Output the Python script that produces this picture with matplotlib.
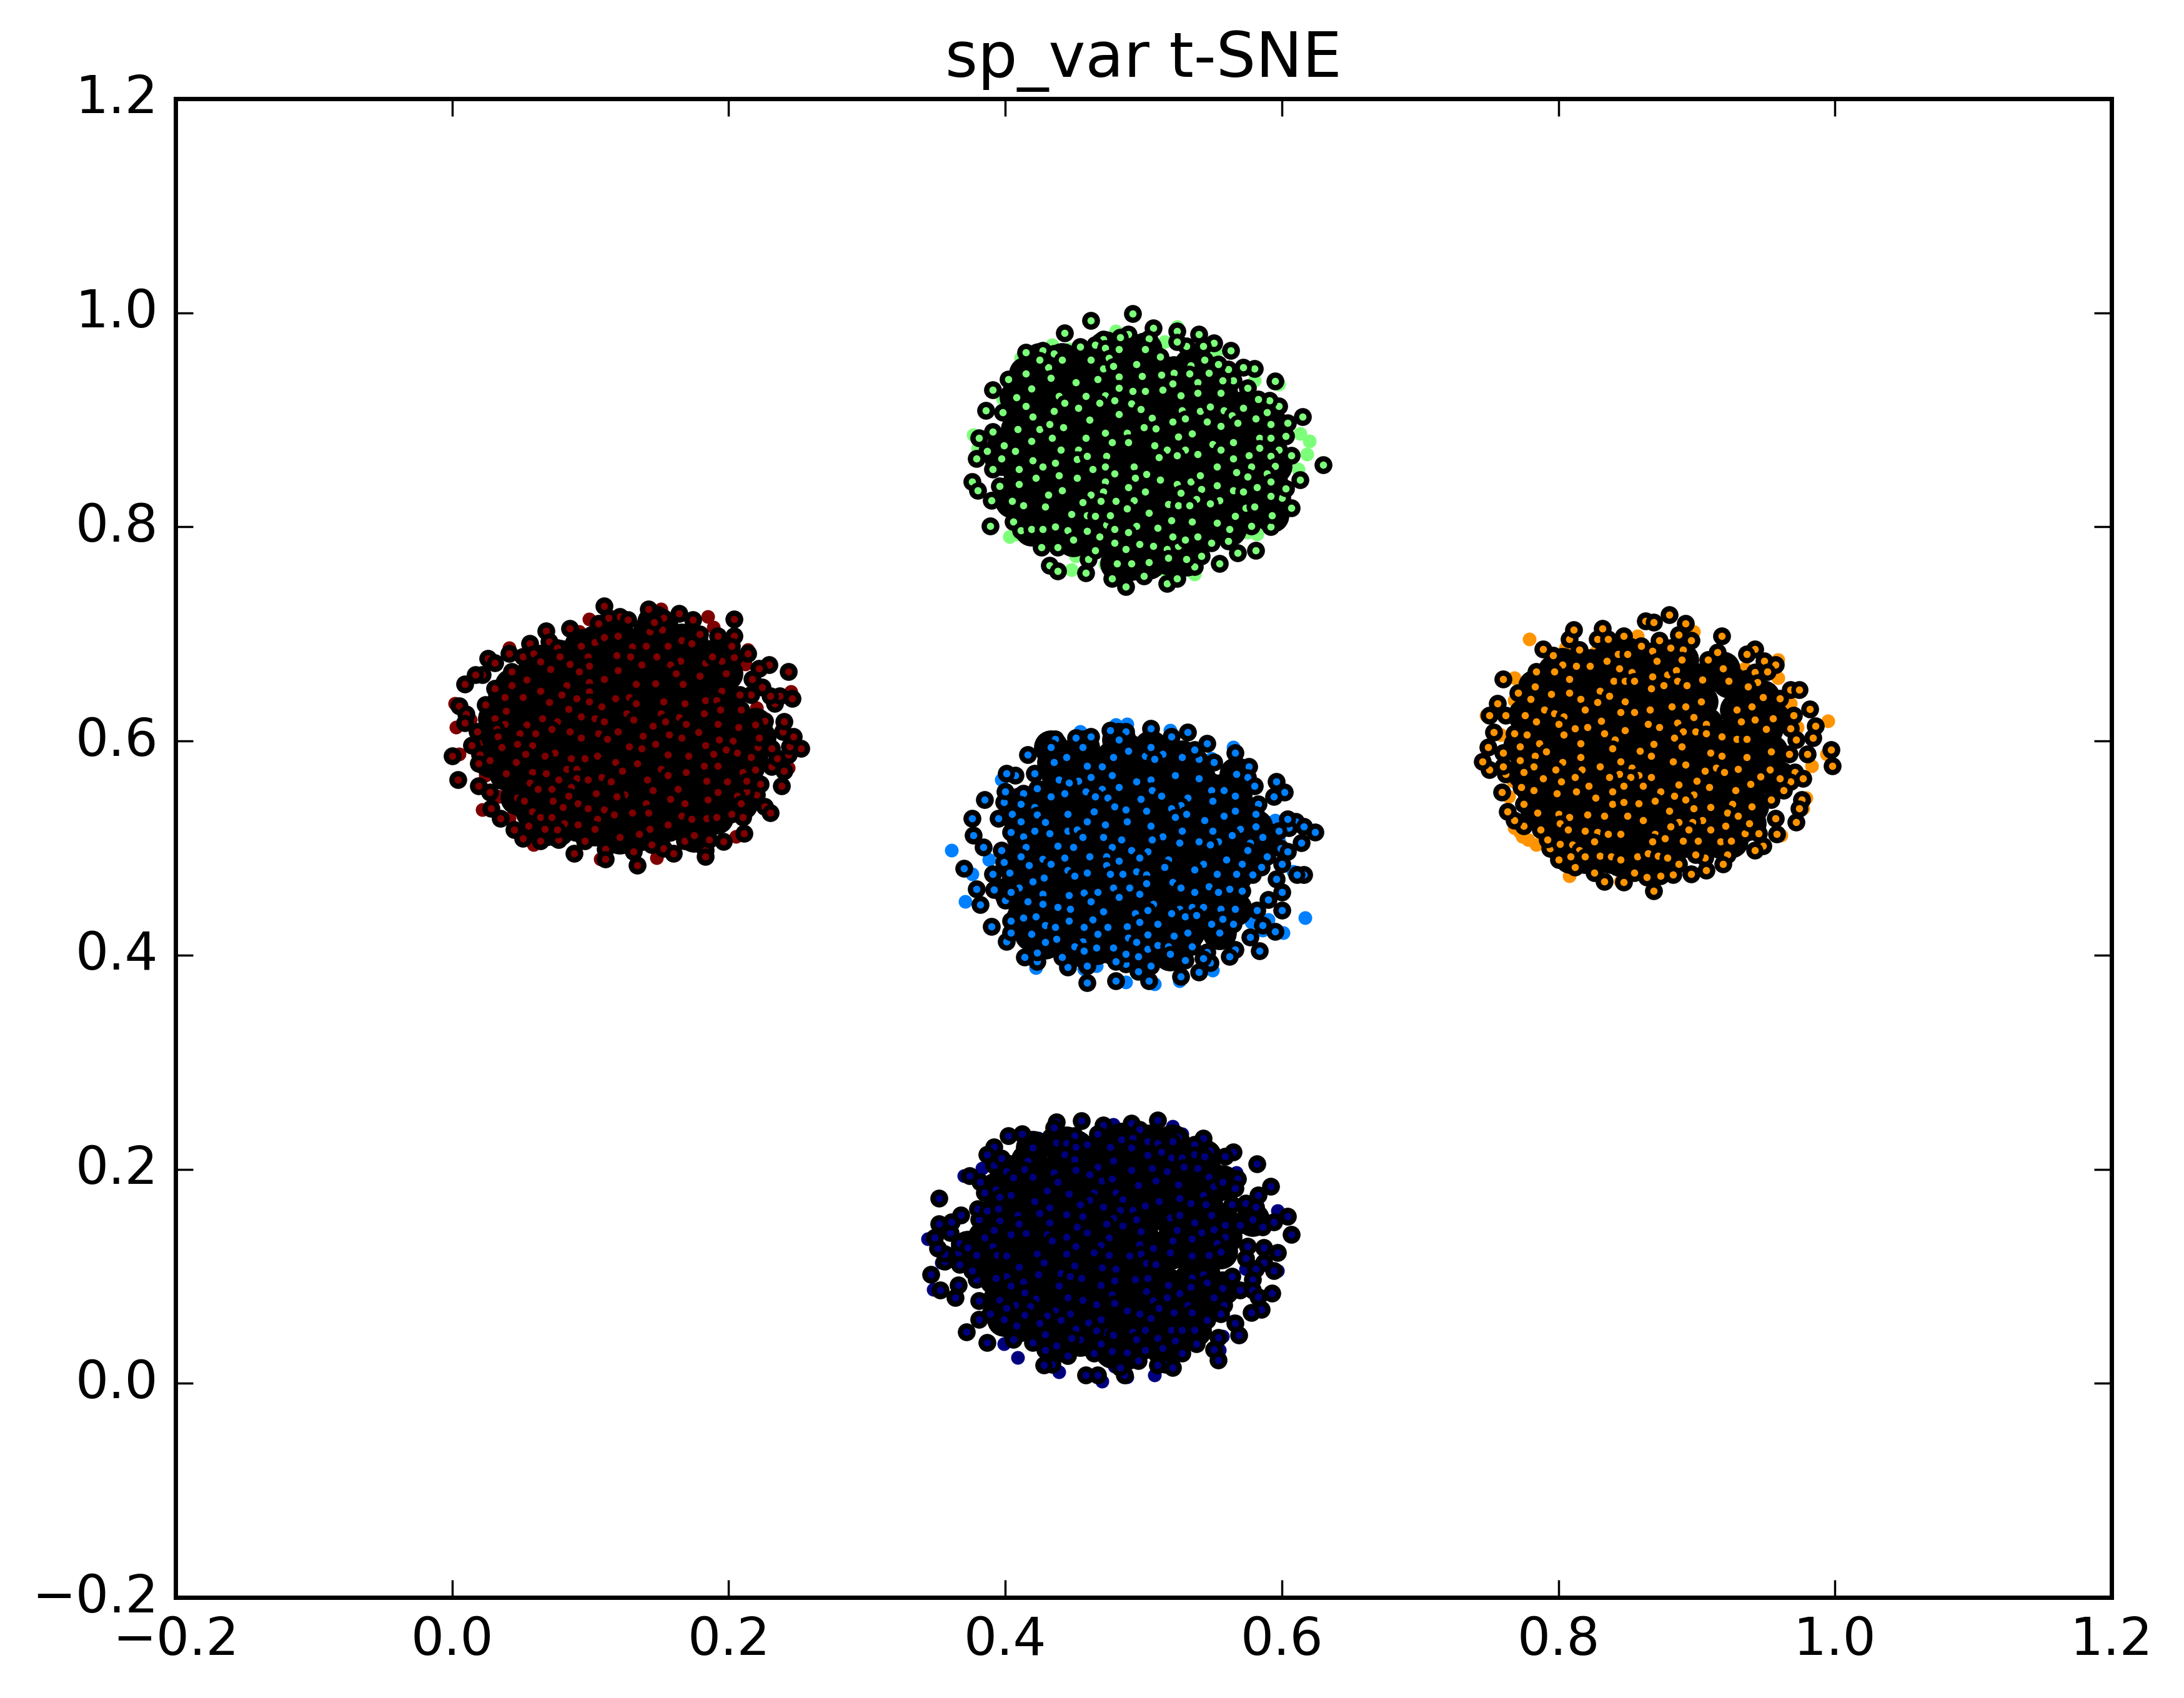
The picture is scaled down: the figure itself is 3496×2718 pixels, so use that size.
#!/usr/bin/env python
import matplotlib
matplotlib.use('Agg')
import matplotlib.pyplot as plt
import numpy as np

# all points are x,y pairs in thousandths, read off the picture cluster by cluster
# *_rim = ringed points on the outside, *_inner = ringed points inside, *_bare = uncovered colour dots

green_rim = [489,1001, 459,995, 440,983, 504,988, 521,985, 537,982, 548,974, 560,967, 451,970, 412,965, 424,967, 432,964,
  399,940, 388,930, 383,911, 395,909, 388,891, 378,885, 384,873, 376,866, 388,856, 373,844, 377,836, 387,827, 393,840,
  386,803, 403,807, 408,799, 423,783, 435,783, 429,766, 435,761, 455,759, 457,772, 462,780, 474,754, 484,746, 497,756,
  514,749, 521,754, 534,765, 552,768, 539,775, 565,778, 578,780, 589,802, 575,803, 558,789, 546,787, 604,820, 597,829,
  610,846, 600,838, 627,860, 604,869, 595,874, 600,887, 612,905, 601,899, 595,915, 588,920, 592,938, 577,950, 569,951,
  562,939, 580,921, 572,932, 558,949, 551,954, 541,958, 540,971, 528,971, 521,975, 509,961, 501,978, 486,982, 480,979,
  468,977, 462,972]
green_inner = [469,969, 479,968, 498,968, 459,958, 472,960, 438,958, 428,951, 422,958, 412,945, 416,931, 405,923, 412,915,
  417,905, 406,893, 422,893, 396,878, 404,873, 394,866, 407,856, 407,842, 402,826, 410,822, 426,821, 416,800, 424,800,
  433,802, 442,799, 446,790, 456,798, 465,793, 476,787, 484,781, 494,786, 504,784, 514,781, 522,784, 478,768, 488,768,
  501,769, 515,773, 528,772, 536,793, 518,793, 527,790, 507,801, 492,803, 486,797, 470,804, 476,800, 468,950, 475,952,
  492,954, 519,946, 531,953, 544,946, 530,945, 448,937, 464,940, 479,942, 496,943, 510,944, 518,936, 536,937, 554,939,
  430,941, 436,924, 455,924, 469,925, 479,932, 489,929, 498,929, 511,930, 524,925, 536,927, 553,927, 440,918, 450,913,
  465,918, 476,920, 488,917, 495,912, 525,911, 538,910, 545,914, 555,911, 569,913, 432,910, 458,902, 479,907, 503,904,
  518,900, 527,903, 561,906, 578,903, 586,909, 429,898, 439,895, 469,890, 485,890, 497,895, 506,894, 543,900, 553,896,
  565,899, 589,898, 431,885, 455,885, 474,881, 486,881, 522,886, 532,889, 547,879, 562,881, 581,885, 589,885, 416,882,
  437,874, 450,874, 505,878, 514,874, 527,874, 553,874, 573,869, 581,876, 417,864, 424,858, 433,862, 449,865, 456,868,
  470,868, 508,867, 521,869, 536,870, 562,866, 589,868, 436,850, 460,856, 469,858, 490,858, 476,852, 499,851, 550,858,
  575,858, 564,853, 592,859, 419,848, 449,848, 469,844, 491,848, 509,846, 521,842, 531,844, 538,850, 572,849, 586,852,
  589,844, 438,836, 486,839, 468,835, 498,835, 524,834, 539,837, 550,841, 562,836, 569,835, 579,839, 428,832, 459,832,
  477,826, 466,826, 490,827, 535,828, 552,827, 589,831, 453,825, 515,823, 522,822, 530,822, 545,824, 571,820, 577,821,
  445,814, 456,813, 485,819, 462,812, 501,815, 590,813, 473,813, 517,808, 532,807, 550,806, 563,812, 559,800]
green_bare = [610,889, 617,882, 615,870, 400,793, 405,795, 445,762, 448,775, 534,758, 579,795, 572,797, 547,797, 513,760,
  595,935, 577,939, 395,922, 420,941, 443,968, 431,972, 477,985, 521,989, 549,965, 512,975, 374,888, 408,960, 377,875,
  414,811, 609,856, 469,767, 590,812]

red_rim = [108,729, 119,719, 140,726, 162,722, 172,716, 202,717, 202,701, 190,701, 177,703, 151,718, 125,716, 111,718,
  104,713, 83,708, 66,706, 54,694, 39,685, 24,680, 29,676, 49,682, 57,685, 68,696, 74,690, 20,665, 15,665, 7,656, 29,652,
  41,668, 3,636, 22,637, 8,628, 7,620, 16,612, 12,599, -2,589, 18,590, 17,582, 2,567, 17,561, 25,555, 26,540, 33,531,
  43,520, 49,512, 53,524, 62,510, 75,511, 86,498, 94,510, 109,502, 109,493, 129,500, 132,487, 142,506, 151,503, 158,498,
  166,510, 181,501, 181,495, 184,511, 194,509, 209,517, 208,532, 200,535, 224,542, 228,536, 218,553, 211,556, 236,561,
  221,563, 238,575, 229,579, 217,576, 241,590, 233,587, 250,596, 242,598, 229,596, 219,597, 245,607, 237,612, 238,621,
  224,622, 231,638, 244,643, 235,645, 228,645, 241,668, 227,674, 220,671, 212,685, 215,661, 222,653, 214,646, 206,646,
  207,632, 202,681, 200,692, 193,678]
red_inner = [91,692, 101,695, 108,700, 118,701, 128,691, 138,692, 141,705, 150,707, 144,714, 154,692, 164,697, 171,694,
  76,682, 96,682, 117,683, 127,682, 146,682, 163,678, 181,676, 186,682, 62,677, 83,675, 97,673, 118,669, 135,674, 156,674,
  160,666, 177,664, 196,666, 69,670, 90,668, 108,661, 145,657, 165,656, 131,656, 52,660, 41,655, 62,650, 81,655, 97,658,
  97,649, 126,644, 116,643, 193,650, 181,641, 189,641, 36,644, 49,644, 77,646, 88,643, 97,640, 68,639, 151,640, 166,638,
  131,638, 37,631, 82,633, 106,635, 124,629, 149,629, 180,629, 192,632, 29,624, 63,624, 91,626, 101,624, 129,623, 162,625,
  190,619, 205,616, 217,618, 36,619, 52,618, 74,621, 108,621, 143,617, 152,621, 167,619, 30,614, 70,614, 83,612, 118,612,
  104,610, 176,611, 155,609, 47,610, 58,610, 31,607, 91,606, 110,605, 136,608, 164,606, 191,604, 201,603, 220,606, 45,600,
  56,599, 34,597, 126,598, 145,600, 181,599, 135,596, 51,591, 72,592, 65,589, 103,589, 94,587, 84,587, 154,590, 169,589,
  187,591, 196,595, 204,592, 214,588, 25,585, 44,583, 116,583, 132,582, 180,580, 190,580, 81,577, 88,577, 121,575, 149,577,
  167,574, 208,574, 37,573, 56,574, 66,573, 106,569, 154,571, 182,566, 197,565, 211,566, 54,564, 75,567, 88,568, 96,567,
  113,565, 139,567, 60,558, 70,558, 84,560, 102,554, 143,557, 161,558, 190,555, 82,552, 123,553, 117,551, 45,550, 156,549,
  204,552, 50,547, 71,547, 89,545, 138,545, 166,545, 183,548, 207,545, 78,541, 96,540, 108,539, 56,537, 128,536, 140,536,
  115,534, 62,532, 70,532, 103,530, 164,533, 171,530, 182,531, 189,532, 79,526, 89,525, 154,525, 141,521, 65,521, 74,520,
  101,521, 119,513, 133,516, 173,515]
red_bare = [97,717, 149,726, 183,719, 187,709, 0,638, 1,616, 11,623, 3,591, 20,601, 22,571, 32,551, 20,539, 39,531, 57,506,
  146,494, 105,493, 203,514, 241,578, 243,649, 218,634, 212,688, 210,675, 96,702, 90,705, 51,673, 39,690, 228,538]

orange_rim = [875,721, 858,715, 864,714, 887,713, 882,702, 913,701, 937,689, 931,684, 944,678, 952,674, 937,667, 946,668,
  939,658, 963,651, 969,651, 955,643, 977,633, 965,627, 981,617, 963,615, 967,604, 979,606, 992,595, 975,591, 993,580,
  962,591, 966,574, 972,568, 963,565, 958,557, 971,548, 949,548, 969,540, 952,531, 967,527, 953,516, 940,517, 943,505,
  937,501, 930,517, 917,497, 914,488, 902,482, 901,494, 891,479, 894,497, 882,488, 878,478, 869,477, 859,476, 864,463,
  842,471, 850,480, 828,472, 821,480, 807,485, 795,492, 789,503, 787,511, 782,520, 770,524, 763,529, 758,537, 770,544,
  754,555, 768,560, 757,572, 755,579, 745,576, 740,584, 767,585, 755,592, 744,597, 748,611, 763,610, 745,627, 757,627,
  751,638, 766,648, 755,661, 779,668, 775,642, 784,689, 791,683, 803,698, 806,707, 810,688, 823,698, 827,708, 831,698,
  842,701, 855,692, 868,697, 876,690, 891,697, 885,688, 863,687, 910,686, 903,679]
orange_inner = [798,674, 808,673, 818,673, 830,678, 838,684, 845,684, 866,678, 884,679, 792,668, 839,671, 848,667, 874,665,
  880,669, 914,671, 803,661, 835,659, 843,659, 850,659, 863,663, 881,659, 899,660, 918,659, 932,654, 778,654, 803,648,
  790,647, 825,650, 862,652, 871,655, 888,655, 832,645, 811,642, 823,639, 843,640, 898,640, 943,644, 785,632, 814,632,
  792,629, 840,630, 850,630, 877,635, 887,635, 935,635, 924,632, 771,627, 799,626, 826,622, 950,624, 893,625, 861,632,
  779,621, 795,619, 816,616, 860,619, 881,620, 902,619, 927,621, 937,623, 807,615, 843,613, 868,616, 885,612, 894,612,
  945,614, 772,609, 799,609, 828,610, 902,610, 913,607, 879,606, 924,605, 931,605, 781,601, 811,601, 836,604, 864,600,
  884,598, 767,598, 834,596, 854,594, 905,592, 913,589, 949,593, 786,593, 811,588, 862,589, 931,588, 778,589, 840,584,
  878,584, 798,583, 887,581, 825,579, 848,578, 909,578, 948,576, 777,579, 793,576, 812,576, 901,575, 925,577, 839,572,
  853,571, 915,574, 770,574, 832,569, 847,569, 862,569, 807,569, 784,568, 941,570, 797,565, 895,566, 955,568, 882,562,
  856,561, 842,561, 817,561, 904,560, 934,563, 777,557, 808,556, 794,554, 834,556, 869,556, 923,557, 893,553, 879,552,
  865,547, 887,548, 834,544, 842,546, 853,545, 822,550, 921,544, 935,542, 905,541, 893,540, 875,538, 780,536, 795,535,
  803,532, 816,534, 828,533, 845,533, 917,536, 925,533, 856,529, 796,526, 882,527, 899,529, 933,526, 916,524, 892,527,
  802,520, 814,519, 823,518, 876,523, 889,520, 905,520, 831,516, 840,516, 865,516, 821,509, 872,512, 885,510, 896,510,
  912,509, 920,510, 796,507, 805,506, 863,509, 810,501, 825,496, 833,495, 840,492, 852,495, 860,498, 867,496, 874,494,
  804,495, 814,495]
orange_bare = [774,698, 763,662, 743,627, 990,622, 989,591, 978,580, 974,550, 972,540, 956,515, 954,679, 954,662, 930,671,
  893,705, 852,701, 803,477, 779,506, 773,511, 769,514, 763,522, 767,518, 759,551, 762,566, 753,609, 763,641, 968,616,
  963,638, 822,686, 800,690, 857,487, 827,487, 840,472, 937,549, 940,533]

blue_rim = [413,590, 433,605, 448,606, 459,607, 473,613, 484,612, 502,615, 517,607, 529,611, 543,601, 563,592, 548,583,
  537,586, 534,595, 573,579, 572,569, 593,565, 577,561, 599,555, 591,551, 580,544, 578,535, 607,528, 613,523, 621,518,
  602,522, 601,530, 595,519, 611,508, 596,503, 601,500, 586,495, 597,488, 582,485, 613,478, 608,478, 593,474, 576,478,
  597,462, 587,455, 568,463, 597,445, 579,445, 562,432, 583,431, 592,425, 574,420, 581,407, 563,408, 559,402, 543,406,
  545,396, 540,400, 537,387, 532,411, 527,398, 524,383, 502,393, 501,379, 493,388, 484,395, 477,379, 477,397, 456,377,
  456,393, 442,392, 438,401, 420,397, 420,405, 411,401, 398,416, 401,424, 387,430, 401,435, 379,450, 397,454, 376,465,
  389,464, 388,479, 367,484, 400,480, 396,490, 381,504, 394,501, 374,515, 401,518, 373,531, 392,531, 402,535, 382,548,
  396,546, 397,556, 410,554, 404,571, 398,573, 418,573, 420,559]
blue_inner = [432,583, 441,588, 453,597, 430,597, 456,580, 467,579, 475,588, 479,604, 486,594, 498,589, 502,597, 511,591,
  505,586, 525,588, 436,567, 450,566, 459,569, 443,564, 474,571, 492,565, 502,567, 520,571, 537,568, 564,572, 555,557,
  546,557, 430,551, 440,554, 455,556, 467,558, 479,560, 503,557, 510,552, 529,550, 495,549, 471,550, 462,551, 563,552,
  547,547, 408,544, 418,541, 476,542, 484,539, 524,543, 499,538, 517,540, 563,538, 442,535, 461,537, 420,534, 528,535,
  520,532, 555,533, 541,529, 408,528, 426,527, 456,528, 485,528, 469,525, 502,524, 418,519, 442,519, 449,520, 525,519,
  547,519, 567,521, 578,523, 429,517, 410,514, 453,513, 468,513, 511,514, 561,515, 583,513, 481,511, 503,511, 537,509,
  551,509, 574,508, 435,505, 446,504, 474,504, 523,508, 412,504, 545,506, 488,501, 500,500, 572,501, 424,493, 408,495,
  440,494, 458,495, 470,495, 494,494, 515,492, 557,492, 479,491, 414,487, 430,488, 470,487, 512,485, 540,488, 568,488,
  534,483, 442,482, 456,480, 473,479, 482,479, 492,481, 550,479, 564,479, 425,475, 447,477, 499,478, 417,472, 518,471,
  499,470, 407,466, 475,466, 487,466, 524,466, 544,467, 559,465, 424,460, 443,459, 454,461, 464,462, 494,460, 534,462,
  551,462, 401,462, 479,457, 413,453, 424,451, 459,453, 504,451, 435,448, 444,446, 532,448, 540,448, 553,446, 468,444,
  491,442, 500,445, 523,446, 517,442, 563,446, 410,438, 419,439, 443,435, 460,436, 527,439, 535,440, 554,437, 426,431,
  494,434, 507,432, 546,432, 433,429, 454,429, 471,429, 485,430, 416,423, 464,423, 500,422, 519,421, 529,424, 552,424,
  434,418, 426,415, 453,416, 486,419, 492,415, 447,411, 475,410, 463,410, 500,409, 507,412, 515,411, 454,407, 484,404,
  493,402, 516,404]
blue_bare = [358,501, 368,453, 614,438, 598,424, 547,389, 505,376, 484,378, 523,379, 463,393, 454,390, 414,416, 394,567,
  419,391, 592,529, 595,510, 605,481, 583,426, 587,436, 575,434, 408,481, 405,485, 373,479, 477,618, 485,619, 451,612,
  516,613, 562,597, 508,603, 546,587, 490,576, 513,564, 446,421, 555,419, 586,527, 385,492]

navy_rim = [452,250, 434,249, 432,244, 468,246, 488,248, 507,251, 494,242, 522,235, 540,234, 409,238, 399,236, 389,226,
  384,219, 447,236, 456,228, 464,238, 534,228, 545,222, 562,221, 579,210, 556,217, 565,196, 589,189, 563,187, 580,181,
  561,172, 571,173, 578,170, 601,161, 591,156, 583,151, 604,144, 567,153, 584,132, 594,127, 572,133, 584,118, 571,122,
  591,110, 578,112, 561,105, 576,102, 567,92, 590,89, 576,92, 580,86, 582,74, 575,71, 555,78, 553,70, 563,61, 543,64,
  566,50, 551,48, 535,42, 548,37, 551,27, 525,33, 513,23, 518,20, 507,22, 493,26, 483,13, 480,20, 498,36, 464,13, 455,13,
  461,33, 442,31, 431,23, 425,22, 426,36, 417,43, 403,46, 384,43, 369,53, 378,65, 386,70, 378,82, 350,92, 361,85, 363,97,
  343,107, 376,102, 364,116, 373,110, 353,119, 353,126, 348,131, 363,127, 346,141, 364,136, 357,146, 349,154, 358,156,
  365,162, 378,158, 349,178, 377,168, 379,193, 371,199, 382,183, 389,209, 394,215, 384,166]
navy_inner = [417,225, 434,230, 441,229, 448,226, 473,226, 481,233, 489,234, 488,225, 500,231, 507,229, 518,231, 500,218,
  510,221, 517,216, 525,216, 534,219, 541,217, 413,213, 440,219, 447,214, 464,207, 475,213, 411,205, 432,202, 448,204,
  488,204, 503,206, 526,207, 536,206, 514,203, 398,203, 417,198, 403,197, 458,200, 544,198, 435,193, 467,194, 474,196,
  506,194, 522,191, 548,189, 554,193, 493,190, 390,186, 427,185, 443,182, 461,183, 477,183, 401,181, 393,179, 540,181,
  418,175, 458,176, 482,177, 508,175, 523,178, 531,173, 451,172, 468,170, 498,171, 542,172, 392,168, 429,169, 480,167,
  489,167, 422,164, 441,163, 546,162, 516,160, 523,162, 453,161, 406,162, 475,159, 492,158, 393,157, 429,155, 407,154,
  534,155, 556,153, 576,158, 449,151, 470,154, 482,152, 389,148, 521,148, 548,149, 456,146, 495,147, 427,144, 401,144,
  539,146, 382,141, 441,142, 472,141, 556,142, 518,138, 494,135, 532,140, 550,136, 448,133, 466,134, 504,131, 388,133,
  431,138, 412,145, 370,132, 516,127, 553,128, 420,126, 441,126, 461,127, 472,125, 495,126, 532,124, 544,125, 391,125,
  376,125, 398,124, 487,124, 425,118, 447,115, 499,117, 506,116, 407,114, 467,113, 477,112, 421,107, 437,108, 444,105,
  540,107, 398,105, 452,103, 500,103, 532,104, 390,103, 491,102, 410,100, 476,101, 543,99, 401,96, 436,96, 466,97, 515,97,
  531,95, 554,94, 499,91, 411,90, 523,89, 474,88, 547,88, 442,85, 453,83, 419,84, 393,83, 514,85, 548,85, 504,82, 463,79,
  404,78, 415,77, 529,78, 476,80, 508,75, 398,75, 485,73, 433,73, 519,71, 532,71, 444,70, 494,70, 411,69, 427,68, 502,66,
  396,65, 437,64, 466,65, 457,62, 405,59, 422,61, 498,55, 448,56, 517,55, 525,55, 469,53, 475,50, 489,53, 534,55, 426,51,
  463,54, 492,46, 507,47, 520,45, 451,46, 445,47, 434,40, 466,42, 511,38, 474,35, 485,34]
navy_bare = [518,245, 475,247, 525,238, 421,234, 411,234, 367,199, 380,206, 341,140, 351,118, 345,93, 396,42, 406,29, 436,16,
  467,7, 485,11, 505,13, 564,202, 594,166, 594,110, 562,63, 554,49, 552,36, 543,73, 476,21, 422,212, 451,218, 550,179,
  387,94, 515,30, 571,112]

clusters = [
  (navy_rim, navy_inner, navy_bare, '#00007f', (0.003, -0.005)),
  (blue_rim, blue_inner, blue_bare, '#0080ff', (0.003, -0.003)),
  (green_rim, green_inner, green_bare, '#7cff79', (0.003, -0.002)),
  (orange_rim, orange_inner, orange_bare, '#ff9400', (0.005, -0.003)),
  (red_rim, red_inner, red_bare, '#7f0000', (0.002, -0.003)),
]

xticks = [-0.2, 0.0, 0.2, 0.4, 0.6, 0.8, 1.0, 1.2]
yticks = [-0.2, 0.0, 0.2, 0.4, 0.6, 0.8, 1.0, 1.2]


def pts(vals, shift):
  # crop readings sit a few thousandths off, shift is that correction
  return np.array(vals).reshape(-1, 2) / 1000.0 + shift


plt.style.use('classic')
fig = plt.figure(figsize=(6.992, 5.436))
ax = fig.add_axes([0.0804, 0.0592, 0.8864, 0.8827])

for rim, inner, bare, col, shift in clusters:
  r = pts(rim, shift)
  n = pts(inner, shift)
  b = pts(bare, shift)
  rings = np.vstack([r, n])
  # colour dots that stick out from under the rings
  ax.scatter(b[:, 0], b[:, 1], s=10, c=col, linewidths=0)
  ax.scatter(rings[:, 0], rings[:, 1], s=10, c=col, linewidths=0)
  # hidden overlap in the middle of each blob reads as solid black
  ax.scatter(n[:, 0], n[:, 1], s=62, c='k', linewidths=0)
  ax.scatter(r[:, 0], r[:, 1], s=17, c='k', linewidths=0)
  ax.scatter(rings[:, 0], rings[:, 1], s=7.5, c=col, edgecolors='k', linewidths=1.05)

ax.set_xlim(-0.2, 1.2)
ax.set_ylim(-0.2, 1.2)
ax.set_xticks(xticks)
ax.set_yticks(yticks)
ax.set_title('sp_var t-SNE')

fig.savefig('out.png', dpi=500)
